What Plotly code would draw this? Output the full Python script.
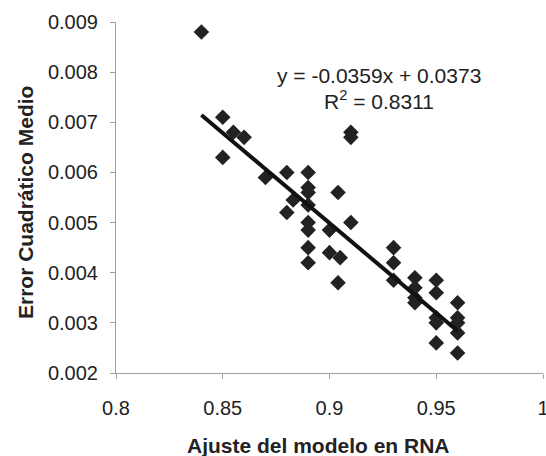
import plotly.graph_objects as go
import numpy as np

# data
ajuste = [0.84, 0.85, 0.855, 0.86, 0.85, 0.91, 0.91, 0.87, 0.88, 0.89, 0.89, 0.89, 0.904,
          0.883, 0.89, 0.88, 0.91, 0.90, 0.89, 0.89, 0.89, 0.89, 0.90, 0.905, 0.904,
          0.93, 0.93, 0.93, 0.94, 0.94, 0.94, 0.94, 0.95, 0.95, 0.95, 0.95, 0.95,
          0.96, 0.96, 0.96, 0.96, 0.96]
error = [0.0088, 0.0071, 0.0068, 0.0067, 0.0063, 0.0067, 0.0068, 0.0059, 0.0060, 0.0060, 0.0057, 0.0056, 0.0056,
         0.00545, 0.00535, 0.0052, 0.0050, 0.00485, 0.0050, 0.00485, 0.0045, 0.0042, 0.0044, 0.0043, 0.0038,
         0.0045, 0.0042, 0.00385, 0.0039, 0.0037, 0.0035, 0.0034, 0.00385, 0.0036, 0.0031, 0.0030, 0.0026,
         0.0034, 0.0031, 0.0028, 0.0024, 0.0030]

slope, intercept = -0.0359, 0.0373
r2 = 0.8311
fit_x = np.array([min(ajuste), max(ajuste)])
fit_y = slope * fit_x + intercept

x_ticks = [0.8, 0.85, 0.9, 0.95, 1.0]
x_ticktext = ["0.8", "0.85", "0.9", "0.95", "1"]
y_ticks = [0.002, 0.003, 0.004, 0.005, 0.006, 0.007, 0.008, 0.009]
y_ticktext = ["0.002", "0.003", "0.004", "0.005", "0.006", "0.007", "0.008", "0.009"]

FONT = "Liberation Sans, Arial, sans-serif"
TXT = "#222222"

fig = go.Figure()
fig.add_trace(go.Scatter(x=ajuste, y=error, mode="markers",
                         marker=dict(symbol="diamond", size=12, color="#222222",
                                     line=dict(width=0)),
                         showlegend=False, cliponaxis=False))
fig.add_trace(go.Scatter(x=fit_x, y=fit_y, mode="lines",
                         line=dict(color="#111111", width=4),
                         showlegend=False))

fig.add_annotation(x=0.9232, y=0.00794, xref="x", yref="y",
                   text=f"y = {slope:.4f}x + {intercept:.4f}",
                   showarrow=False, font=dict(family=FONT, size=21, color=TXT))
fig.add_annotation(x=0.9232, y=0.00744, xref="x", yref="y",
                   text=f"R<sup>2</sup> = {r2:.4f}",
                   showarrow=False, font=dict(family=FONT, size=21, color=TXT))

# axis titles
fig.add_annotation(x=318, y=445, text="<b>Ajuste del modelo en RNA</b>", showarrow=False,
                   font=dict(family=FONT, size=21, color=TXT))
fig.add_annotation(x=25, y=203, text="<b>Error Cuadrático Medio</b>", showarrow=False,
                   textangle=-90, font=dict(family=FONT, size=21, color=TXT))

axis_common = dict(showgrid=False, zeroline=False, showline=True, linecolor="#a0a0a0",
                   linewidth=1, ticks="outside", ticklen=5, tickcolor="#a0a0a0",
                   automargin=False,
                   tickfont=dict(family=FONT, size=20, color=TXT))

fig.update_xaxes(range=[0.8, 1.0], tickvals=x_ticks, ticktext=x_ticktext,
                 ticklabelstandoff=12, ticklabeloverflow="allow",
                 **axis_common)
fig.update_yaxes(range=[0.002, 0.009], tickvals=y_ticks, ticktext=y_ticktext,
                 ticklabelstandoff=8,
                 **axis_common)

L, R, T, B, W, H = 116, 3, 22, 83, 546, 456
# convert pixel positions of title annotations into paper coords
for ann in fig.layout.annotations[2:]:
    px, py = ann.x, ann.y
    ann.xref = "paper"; ann.yref = "paper"
    ann.x = (px - L) / (W - L - R)
    ann.y = (H - B - py) / (H - T - B)
    ann.xanchor = "center"; ann.yanchor = "middle"

fig.update_layout(width=W, height=H, margin=dict(l=L, r=R, t=T, b=B, autoexpand=False),
                  plot_bgcolor="white", paper_bgcolor="white",
                  font=dict(family=FONT))

fig.write_html("out.html")
